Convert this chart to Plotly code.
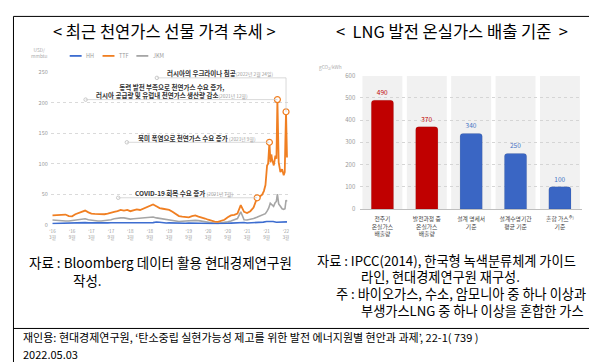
import pandas as pd
import plotly.graph_objects as go

W, H = 597, 362
FONT = "Noto Sans CJK KR"


def px(x):
    return x / W


def py(y):
    return 1 - y / H


# ---------------- Left chart data (USD/mmbtu) ----------------
months = pd.date_range("2016-03-01", "2021-05-01", freq="MS")  # 63 months

ttf_monthly = [
    15, 15.5, 16, 17, 16.5, 14, 13.5, 17, 19, 21,
    23, 20, 18, 17.5, 17, 16.5, 17, 18, 20, 21, 22, 24,
    23, 24, 22, 23, 25, 24, 26, 28, 31, 33, 30, 27,
    26, 25, 24, 21, 17, 14, 13, 12, 12, 14, 15, 13,
    12, 10, 8, 6, 5, 4.5, 6, 8, 12, 15, 16, 18,
    32, 21, 19, 22, 28,
]
jkm_monthly = [
    7.5, 7, 6, 6.5, 6, 6, 6.5, 7, 8, 9,
    9.5, 8, 7, 6.5, 6, 6, 6.5, 7, 8, 9.5, 10.5, 11,
    11, 10, 9, 9.5, 10, 10.5, 11, 11.5, 12, 12.5, 11, 10,
    9, 8, 7, 6, 5.5, 5, 5.5, 6, 6.5, 7, 7, 6.5,
    5.5, 4, 3.5, 3, 2.2, 2, 2.5, 3.5, 4.5, 6, 8, 10,
    21, 8, 7.5, 8.5, 10,
]
hh_monthly = [
    1.8, 2.0, 2.1, 2.6, 2.8, 2.8, 2.9, 3.1, 2.8, 3.5,
    3.3, 2.8, 3.0, 3.2, 3.2, 3.0, 2.9, 2.9, 3.0, 2.9, 3.1, 2.8,
    3.5, 2.7, 2.7, 2.8, 2.9, 2.9, 2.8, 2.9, 3.0, 3.2, 4.2, 3.9,
    3.1, 2.7, 2.9, 2.6, 2.6, 2.4, 2.3, 2.2, 2.6, 2.3, 2.6, 2.2,
    2.0, 1.9, 1.7, 1.7, 1.8, 1.6, 1.7, 2.3, 2.1, 2.4, 2.8, 2.6,
    2.7, 3.5, 2.6, 2.7, 2.9,
]

ttf_recent_dates = [
    "2021-06-04", "2021-06-20", "2021-07-05", "2021-07-21", "2021-08-06",
    "2021-08-21", "2021-09-05", "2021-09-15", "2021-09-27", "2021-10-07",
    "2021-10-15", "2021-10-22", "2021-11-07", "2021-11-22", "2021-12-02",
    "2021-12-11", "2021-12-23", "2022-01-08", "2022-01-24", "2022-02-08",
    "2022-02-18", "2022-02-24", "2022-03-02", "2022-03-11",
]
ttf_recent = [44, 42, 47, 49, 55, 65, 97, 100, 135, 102, 115, 107, 97, 113, 108,
              205, 102, 86, 91, 81, 86, 140, 185, 110]

jkm_recent_dates = [
    "2021-06-01", "2021-07-01", "2021-08-01", "2021-08-20", "2021-09-05",
    "2021-09-20", "2021-10-05", "2021-10-20", "2021-11-05", "2021-11-20",
    "2021-12-01", "2021-12-11", "2021-12-23", "2022-01-08", "2022-01-24",
    "2022-02-08", "2022-02-20", "2022-03-02", "2022-03-11",
]
jkm_recent = [12, 14, 16, 18, 22, 27, 35, 33, 30, 36, 38, 50, 34, 30, 26, 25, 26, 40, 38]

hh_recent_dates = [
    "2021-06-01", "2021-07-01", "2021-08-01", "2021-09-01", "2021-10-01",
    "2021-11-01", "2021-12-01", "2022-01-01", "2022-02-01", "2022-03-01", "2022-03-11",
]
hh_recent = [3.2, 3.8, 4.1, 5.0, 5.6, 5.0, 3.8, 4.3, 4.6, 4.8, 4.5]

x_tick_dates = pd.date_range("2016-03-01", "2022-03-01", freq="6MS")
x_tick_text = [f"'{d.strftime('%y')}<br>{d.month}월" for d in x_tick_dates]

event_dates = ["2021-06-04", "2021-09-27", "2021-12-11", "2022-03-02"]
event_values = [44, 135, 205, 185]
leader_start_dates = ["2017-11-08", "2018-01-28", "2017-01-06", "2018-11-06"]
leader_levels = [44, 135, 205, 240.7]

# ---------------- Right chart data (gCO2/kWh) ----------------
categories = ["전주기<br>온실가스<br>배출량", "발전과정 중<br>온실가스<br>배출량",
              "설계 명세서<br>기준", "설계수명기간<br>평균 기준", "혼합 가스<sup>주)</sup><br>기준"]
emissions = [490, 370, 340, 250, 100]
bar_colors = ["#C00000", "#C00000", "#3A66C4", "#3A66C4", "#3A66C4"]
label_colors = ["#C00000", "#C00000", "#4472C4", "#4472C4", "#4472C4"]

fig = go.Figure()

ttf_x = list(months) + list(pd.to_datetime(ttf_recent_dates))
jkm_x = list(months) + list(pd.to_datetime(jkm_recent_dates))
hh_x = list(months) + list(pd.to_datetime(hh_recent_dates))

fig.add_trace(go.Scatter(x=jkm_x, y=jkm_monthly + jkm_recent, mode="lines",
                         line=dict(color="#A6A6A6", width=1.6), name="JKM",
                         xaxis="x", yaxis="y"))
fig.add_trace(go.Scatter(x=hh_x, y=hh_monthly + hh_recent, mode="lines",
                         line=dict(color="#3D6DD0", width=1.6), name="HH",
                         xaxis="x", yaxis="y"))
fig.add_trace(go.Scatter(x=ttf_x, y=ttf_monthly + ttf_recent, mode="lines",
                         line=dict(color="#F07F22", width=1.8), name="TTF",
                         xaxis="x", yaxis="y"))

shapes = []
for sd, lv, ed, ev in zip(leader_start_dates, leader_levels, event_dates, event_values):
    shapes.append(dict(type="line", xref="x", yref="y", x0=sd, x1=ed, y0=lv, y1=lv,
                       line=dict(color="#CFCFCF", width=0.8), layer="above"))
    if lv != ev:
        shapes.append(dict(type="line", xref="x", yref="y", x0=ed, x1=ed, y0=lv, y1=ev,
                           line=dict(color="#CFCFCF", width=0.8), layer="above"))

fig.add_trace(go.Scatter(x=leader_start_dates, y=leader_levels, mode="markers",
                         marker=dict(size=3.5, color="white", line=dict(color="#BBBBBB", width=0.8)),
                         xaxis="x", yaxis="y", cliponaxis=False))
fig.add_trace(go.Scatter(x=event_dates, y=event_values, mode="markers",
                         marker=dict(size=6, color="white", line=dict(color="#F07F22", width=1.2)),
                         xaxis="x", yaxis="y", cliponaxis=False))

for i in range(len(categories)):
    shapes.append(dict(type="rect", xref="x2", yref="y2", x0=i - 0.45, x1=i + 0.45, y0=0, y1=600,
                       fillcolor="#F1F1F1", line=dict(width=0), layer="below"))

fig.add_trace(go.Bar(x=categories, y=emissions, width=0.5,
                     marker=dict(color=bar_colors, cornerradius=3,
                                 line=dict(color="rgba(0,0,0,0.15)", width=0.5)),
                     text=[str(v) for v in emissions], textposition="outside",
                     textfont=dict(size=6.5, color=label_colors, family=FONT),
                     cliponaxis=False, xaxis="x2", yaxis="y2"))

shapes.append(dict(type="rect", xref="paper", yref="paper", x0=px(3.5), x1=px(591),
                   y0=py(358.5), y1=py(3.5), line=dict(color="black", width=1)))
shapes.append(dict(type="line", xref="paper", yref="paper", x0=px(3.5), x1=px(591),
                   y0=py(323.5), y1=py(323.5), line=dict(color="black", width=1)))

legend_items = [("HH", "#3D6DD0", 60), ("TTF", "#F07F22", 93), ("JKM", "#A6A6A6", 127)]
annotations = []
for name, col, x0 in legend_items:
    shapes.append(dict(type="line", xref="paper", yref="paper", x0=px(x0), x1=px(x0 + 12),
                       y0=py(44), y1=py(44), line=dict(color=col, width=1.8)))
    annotations.append(dict(text=name, x=px(x0 + 14.5), y=py(44), xref="paper", yref="paper",
                            xanchor="left", yanchor="middle", showarrow=False,
                            font=dict(size=5.5, color="#999999")))


def ann(text, x, y, size, color="black", xanchor="left", align="left"):
    annotations.append(dict(text=text, x=px(x), y=py(y), xref="paper", yref="paper",
                            xanchor=xanchor, yanchor="middle", showarrow=False, align=align,
                            font=dict(size=size, color=color, family=FONT)))


ann("< 최근 천연가스 선물 가격 추세 >", 155, 18, 16.5, xanchor="center")
ann("<  LNG 발전 온실가스 배출 기준  >", 444, 18, 16.5, xanchor="center")
ann("USD/<br>mmbtu", 30, 40, 4.8, color="#AAAAAA", xanchor="center", align="center")
ann("gCO<sub>2</sub>/kWh", 309, 55, 4.8, color="#AAAAAA")

D = "<span style='font-size:4.8px;color:#999999;font-weight:normal'>{}</span>"
ann("<b>러시아의 우크라이나 침공</b>" + D.format("(2022년 2월 24일)"), 156, 62, 6.5, color="#333333")
ann("<b>동력 발전 부족으로 천연가스 수요 증가,</b><br><b>러시아 공급량 및 유럽내 천연가스 생산량 감소</b>"
    + D.format("(2021년 12월)"), 163, 79.5, 6.5, color="#333333", xanchor="center", align="center")
ann("<b>북미 폭염으로 천연가스 수요 증가</b> " + D.format("(2021년 9월)"), 127, 128, 6.5, color="#333333")
ann("<b>COVID-19 회복 수요 증가</b> " + D.format("(2021년 7월)"), 124, 184.5, 6.5, color="#333333")

ann("자료 : Bloomberg 데이터 활용 현대경제연구원", 17, 255, 13.5)
ann("작성.", 61, 273.5, 13.5)
ann("자료 : IPCC(2014), 한국형 녹색분류체계 가이드", 307, 253.5, 13.2)
ann("라인, 현대경제연구원 재구성.", 351, 270.5, 13.2)
ann("주 : 바이오가스, 수소, 암모니아 중 하나 이상과", 326, 288, 13.2)
ann("부생가스LNG 중 하나 이상을 혼합한 가스", 351, 305.5, 13.2)

ann("재인용: 현대경제연구원, ‘탄소중립 실현가능성 제고를 위한 발전 에너지원별 현안과 과제’, 22-1( 739 )",
    11, 332, 11)
ann("2022.05.03", 11, 350, 11)

fig.update_layout(
    width=W, height=H, margin=dict(l=0, r=0, t=0, b=0),
    paper_bgcolor="white", plot_bgcolor="rgba(0,0,0,0)", showlegend=False,
    font=dict(family=FONT),
    shapes=shapes, annotations=annotations,
    xaxis=dict(type="date", domain=[px(41), px(280)], range=["2016-02-14", "2022-03-26"],
               tickvals=list(x_tick_dates), ticktext=x_tick_text,
               tickfont=dict(size=4.6, color="#999999"), showgrid=False, showline=False,
               zeroline=False, ticks="", ticklabelstandoff=3, anchor="y", fixedrange=True),
    yaxis=dict(domain=[py(217), py(60.7)], range=[0, 250], tickvals=[0, 50, 100, 150, 200, 250],
               tickfont=dict(size=5.5, color="#999999"), showgrid=True, gridcolor="#DADADA",
               griddash="dot", gridwidth=0.8, zeroline=False, ticks="", ticklabelstandoff=2,
               anchor="x"),
    xaxis2=dict(type="category", domain=[px(352), px(575)], range=[-0.5, 4.5],
                tickfont=dict(size=5.8, color="#444444"), showgrid=False, showline=True,
                linecolor="#BFBFBF", linewidth=1, ticks="", ticklabelstandoff=4, anchor="y2"),
    yaxis2=dict(domain=[py(201), py(64.3)], range=[0, 600], dtick=100,
                tickfont=dict(size=6, color="#999999"), showgrid=True, gridcolor="#D5D5D5",
                griddash="dot", gridwidth=0.8, zeroline=False, ticks="", ticklabelstandoff=4,
                anchor="x2"),
)

fig.write_html("out.html")
